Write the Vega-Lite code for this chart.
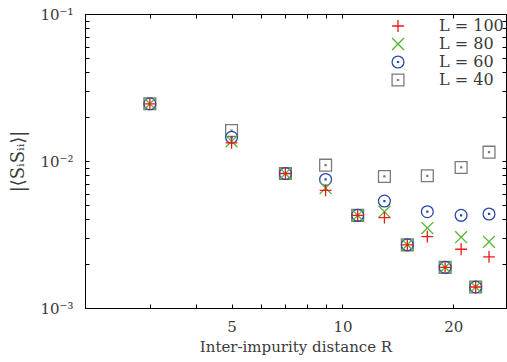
{
  "$schema": "https://vega.github.io/schema/vega-lite/v6.json",
  "autosize": {"type": "none"},
  "padding": {"left": 85, "top": 14, "right": 1, "bottom": 54},
  "width": 421,
  "height": 294,
  "background": "white",
  "config": {
    "view": {"stroke": "black", "strokeWidth": 1},
    "axis": {
      "grid": false,
      "domainColor": "black",
      "domainWidth": 1,
      "tickColor": "black",
      "tickWidth": 1,
      "tickSize": -4,
      "labelFont": "DejaVu Serif",
      "labelFontSize": 15,
      "labelColor": "#3a3a3a",
      "titleFont": "DejaVu Serif",
      "titleFontSize": 15,
      "titleFontWeight": "normal",
      "titleColor": "#3a3a3a"
    },
    "legend": {
      "labelFont": "DejaVu Serif",
      "labelFontSize": 16,
      "labelColor": "#3a3a3a"
    }
  },
  "data": {
    "values": [
      {"L": "L = 40", "R": 3, "S": 0.0245},
      {"L": "L = 40", "R": 5, "S": 0.0161},
      {"L": "L = 40", "R": 7, "S": 0.00822},
      {"L": "L = 40", "R": 9, "S": 0.00937},
      {"L": "L = 40", "R": 11, "S": 0.00427},
      {"L": "L = 40", "R": 13, "S": 0.00785},
      {"L": "L = 40", "R": 15, "S": 0.00269},
      {"L": "L = 40", "R": 17, "S": 0.00793},
      {"L": "L = 40", "R": 19, "S": 0.00189},
      {"L": "L = 40", "R": 21, "S": 0.00904},
      {"L": "L = 40", "R": 23, "S": 0.00139},
      {"L": "L = 40", "R": 25, "S": 0.01148},
      {"L": "L = 60", "R": 3, "S": 0.0245},
      {"L": "L = 60", "R": 5, "S": 0.0145},
      {"L": "L = 60", "R": 7, "S": 0.00822},
      {"L": "L = 60", "R": 9, "S": 0.00749},
      {"L": "L = 60", "R": 11, "S": 0.00427},
      {"L": "L = 60", "R": 13, "S": 0.00534},
      {"L": "L = 60", "R": 15, "S": 0.00269},
      {"L": "L = 60", "R": 17, "S": 0.00452},
      {"L": "L = 60", "R": 19, "S": 0.00189},
      {"L": "L = 60", "R": 21, "S": 0.00427},
      {"L": "L = 60", "R": 23, "S": 0.00139},
      {"L": "L = 60", "R": 25, "S": 0.00436},
      {"L": "L = 80", "R": 3, "S": 0.0245},
      {"L": "L = 80", "R": 5, "S": 0.01361},
      {"L": "L = 80", "R": 7, "S": 0.00822},
      {"L": "L = 80", "R": 9, "S": 0.00655},
      {"L": "L = 80", "R": 11, "S": 0.00427},
      {"L": "L = 80", "R": 13, "S": 0.00452},
      {"L": "L = 80", "R": 15, "S": 0.00269},
      {"L": "L = 80", "R": 17, "S": 0.0035},
      {"L": "L = 80", "R": 19, "S": 0.00189},
      {"L": "L = 80", "R": 21, "S": 0.00303},
      {"L": "L = 80", "R": 23, "S": 0.00139},
      {"L": "L = 80", "R": 25, "S": 0.00282},
      {"L": "L = 100", "R": 3, "S": 0.0245},
      {"L": "L = 100", "R": 5, "S": 0.01328},
      {"L": "L = 100", "R": 7, "S": 0.00822},
      {"L": "L = 100", "R": 9, "S": 0.00631},
      {"L": "L = 100", "R": 11, "S": 0.00427},
      {"L": "L = 100", "R": 13, "S": 0.00412},
      {"L": "L = 100", "R": 15, "S": 0.00269},
      {"L": "L = 100", "R": 17, "S": 0.00306},
      {"L": "L = 100", "R": 19, "S": 0.00189},
      {"L": "L = 100", "R": 21, "S": 0.00251},
      {"L": "L = 100", "R": 23, "S": 0.00139},
      {"L": "L = 100", "R": 25, "S": 0.00223}
    ]
  },
  "layer": [
    {
      "mark": {"type": "point", "filled": false, "strokeWidth": 1.3, "size": 140, "opacity": 1},
      "encoding": {
        "x": {
          "field": "R", "type": "quantitative",
          "scale": {"type": "log", "domain": [2, 27.8], "nice": false},
          "axis": {
            "orient": "bottom",
            "values": [3, 4, 5, 6, 7, 8, 9, 10, 20],
            "labelExpr": "(datum.value == 5 || datum.value == 10 || datum.value == 20) ? datum.label : ''",
            "labelPadding": 15,
            "title": "Inter-impurity distance R",
            "titlePadding": 5
          }
        },
        "y": {
          "field": "S", "type": "quantitative",
          "scale": {"type": "log", "domain": [0.001, 0.1], "nice": false},
          "axis": {
            "orient": "left",
            "values": [0.001, 0.002, 0.003, 0.004, 0.005, 0.006, 0.007, 0.008, 0.009, 0.01, 0.02, 0.03, 0.04, 0.05, 0.06, 0.07, 0.08, 0.09, 0.1],
            "labelExpr": "datum.value == 0.1 ? '10⁻¹' : datum.value == 0.01 ? '10⁻²' : datum.value == 0.001 ? '10⁻³' : ''",
            "labelPadding": 16,
            "title": "|⟨SᵢSᵢᵢ⟩|",
            "titleFontSize": 18,
            "titlePadding": 12
          }
        },
        "shape": {
          "field": "L", "type": "nominal",
          "scale": {
            "domain": ["L = 100", "L = 80", "L = 60", "L = 40"],
            "range": [
              "M-1,0H1M0,-1V1",
              "M-1,-1L1,1M-1,1L1,-1",
              "M1,0A1,1,0,1,1,-1,0A1,1,0,1,1,1,0ZM-0.08,-0.08H0.08V0.08H-0.08Z",
              "M-1,-1H1V1H-1ZM-0.08,-0.08H0.08V0.08H-0.08Z"
            ]
          },
          "legend": {
            "orient": "none",
            "legendX": 305,
            "legendY": 4,
            "title": null,
            "padding": 0,
            "rowPadding": 0,
            "symbolSize": 140,
            "symbolStrokeWidth": 1.3,
            "labelOffset": 33,
            "labelExpr": "replace(datum.label, / /g, ' ')"
          }
        },
        "color": {
          "field": "L", "type": "nominal",
          "scale": {
            "domain": ["L = 100", "L = 80", "L = 60", "L = 40"],
            "range": ["#f01818", "#55b42e", "#2a48a8", "#7a7a7a"]
          },
          "legend": {
            "orient": "none",
            "legendX": 305,
            "legendY": 4,
            "title": null,
            "padding": 0,
            "rowPadding": 0,
            "symbolSize": 140,
            "symbolStrokeWidth": 1.3,
            "labelOffset": 33,
            "labelExpr": "replace(datum.label, / /g, ' ')"
          }
        }
      }
    },
    {
      "mark": {"type": "point", "opacity": 0},
      "encoding": {
        "x": {
          "field": "R", "type": "quantitative",
          "scale": {"type": "log", "domain": [2, 27.8], "nice": false},
          "axis": {"orient": "top", "values": [3, 4, 5, 6, 7, 8, 9, 10, 20], "labels": false, "title": null}
        },
        "y": {
          "field": "S", "type": "quantitative",
          "scale": {"type": "log", "domain": [0.001, 0.1], "nice": false},
          "axis": {
            "orient": "right",
            "values": [0.001, 0.002, 0.003, 0.004, 0.005, 0.006, 0.007, 0.008, 0.009, 0.01, 0.02, 0.03, 0.04, 0.05, 0.06, 0.07, 0.08, 0.09, 0.1],
            "labels": false, "title": null
          }
        }
      }
    }
  ],
  "resolve": {"axis": {"x": "independent", "y": "independent"}}
}
